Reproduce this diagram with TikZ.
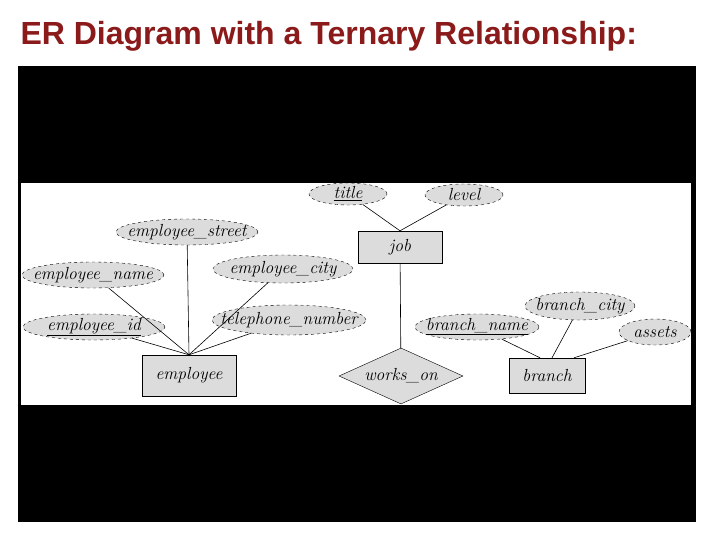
\documentclass[tikz,border=0pt]{standalone}
\usepackage{fontspec}
\usetikzlibrary{shapes.geometric}
\newfontfamily\titlefont{Liberation Sans}
\definecolor{ttl}{HTML}{8B1A1A}
\definecolor{fillg}{HTML}{DCDCDC}
\begin{document}
\begin{tikzpicture}[x=1pt,y=-1pt,
  attr/.style={ellipse,draw,dashed,fill=fillg,inner xsep=-20pt,inner ysep=-3pt,font=\itshape\fontsize{17.5}{18}\selectfont},
  ent/.style={rectangle,draw,fill=fillg,inner sep=0pt,font=\itshape\fontsize{17.5}{18}\selectfont},
  ln/.style={draw,line width=0.6pt}]
\useasboundingbox (0,0) rectangle (720,540);
\fill[white] (0,0) rectangle (720,540);
\node[anchor=west,font=\titlefont\bfseries\fontsize{32}{32}\selectfont,text=ttl] (t) at (17,36) {ER Diagram with a Ternary Relationship:};
\fill[black] (18,66) rectangle (696,522);
\fill[white] (21,183) rectangle (691,405);
\node[attr,minimum width=78,minimum height=22] (title) at (348,194) {\underline{title}};
\node[attr,minimum width=78,minimum height=22] (level) at (464,195) {level};
\node[attr,minimum width=142,minimum height=26] (estreet) at (187,232) {employee\_street};
\node[attr,minimum width=142,minimum height=26] (ename) at (93,275) {employee\_name};
\node[attr,minimum width=140,minimum height=28] (ecity) at (283,269) {employee\_city};
\node[attr,minimum width=142,minimum height=26] (eid) at (94,327) {\underline{employee\_id}};
\node[attr,minimum width=154,minimum height=30] (tel) at (289,320) {telephone\_number};
\node[attr,minimum width=124,minimum height=26] (bname) at (477,327) {\underline{branch\_name}};
\node[attr,minimum width=110,minimum height=28] (bcity) at (580,306) {branch\_city};
\node[attr,minimum width=72,minimum height=26] (assets) at (655,332) {assets};
\node[ent,minimum width=84,minimum height=32] (job) at (400,247) {job};
\node[ent,minimum width=94,minimum height=41] (emp) at (189,375.5) {employee};
\node[ent,minimum width=76,minimum height=35] (branch) at (547,375.5) {branch};
\node[diamond,draw,fill=fillg,minimum width=124,minimum height=56,inner sep=-12pt,aspect=2.2,font=\itshape\fontsize{17.5}{18}\selectfont] (works) at (401,376) {works\_on};
\draw[ln] (title) -- (job.north);
\draw[ln] (level) -- (job.north);
\draw[ln] (job) -- (works);
\foreach \a in {estreet,ename,ecity,eid,tel} \draw[ln] (\a) -- (emp.north);
\draw[ln] (bname) -- ([xshift=-7pt]branch.north);
\draw[ln] (bcity) -- ([xshift=5pt]branch.north);
\draw[ln] (assets) -- ([xshift=27pt]branch.north);
\end{tikzpicture}
\end{document}
